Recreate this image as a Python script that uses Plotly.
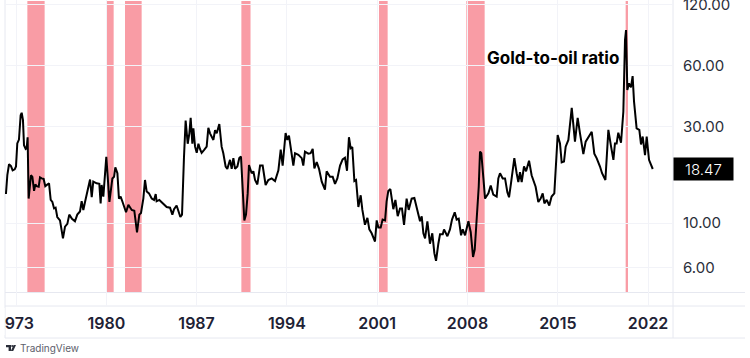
import math
import plotly.graph_objects as go

years = [1972.22,1972.33,1972.46,1972.61,1972.74,1972.90,1973.00,1973.10,1973.23,1973.36,1973.44,1973.54,1973.62,1973.75,1973.83,1973.90,1973.98,
1974.16,1974.27,1974.40,1974.50,1974.60,1974.76,1974.86,1974.99,1975.14,1975.27,1975.43,1975.56,1975.69,1975.82,1975.95,1976.07,1976.20,1976.41,1976.64,1976.80,1976.98,
1977.13,1977.34,1977.57,1977.75,1977.96,1978.09,1978.22,1978.35,1978.53,1978.63,1978.74,1978.87,1978.99,1979.25,1979.46,1979.56,1979.64,1979.77,1979.90,1980.00,
1980.11,1980.24,1980.47,1980.60,1980.70,1980.86,1980.98,1981.11,1981.24,1981.53,1981.71,1981.97,1982.17,1982.38,1982.56,1982.69,1982.87,1983.00,1983.13,1983.31,1983.52,1983.70,1983.83,1983.90,
1984.11,1984.42,1984.68,1984.94,1985.12,1985.25,1985.45,1985.74,1985.87,1986.02,1986.15,1986.31,1986.44,1986.54,1986.67,1986.75,1986.88,1987.01,1987.14,1987.26,1987.39,1987.57,1987.78,1987.91,
1988.04,1988.30,1988.43,1988.56,1988.76,1988.94,1989.07,1989.25,1989.38,1989.59,1989.72,1989.85,1989.98,1990.16,1990.31,1990.44,1990.57,1990.70,1990.83,1990.96,1991.06,
1991.27,1991.40,1991.53,1991.71,1991.92,1992.12,1992.35,1992.56,1992.82,1993.08,1993.34,1993.52,1993.67,1993.90,1994.03,1994.16,1994.32,1994.50,1994.63,1994.89,1995.15,1995.27,1995.40,1995.66,1995.84,
1996.00,1996.13,1996.31,1996.49,1996.70,1996.95,1997.08,1997.34,1997.55,1997.73,1997.91,1998.12,1998.32,1998.50,1998.66,1998.81,1998.94,1999.07,1999.23,1999.36,1999.54,1999.72,1999.85,
2000.05,2000.24,2000.39,2000.57,2000.83,2000.96,2001.09,2001.27,2001.42,2001.61,2001.73,2001.86,2002.02,2002.25,2002.41,2002.59,2002.77,2002.92,2003.08,2003.28,2003.44,2003.67,2003.88,
2004.14,2004.32,2004.45,2004.58,2004.71,2004.89,2005.09,2005.27,2005.43,2005.56,2005.74,2005.87,2006.08,2006.18,2006.44,2006.64,2006.80,2007.01,2007.16,2007.32,2007.50,2007.63,2007.81,
2008.07,2008.25,2008.43,2008.56,2008.71,2008.87,2008.97,2009.07,2009.23,2009.36,2009.62,2009.80,2010.00,2010.26,2010.39,2010.52,2010.73,2010.91,
2011.09,2011.22,2011.37,2011.63,2011.81,2011.94,2012.07,2012.20,2012.38,2012.54,2012.77,2012.97,2013.28,2013.49,2013.67,2013.83,2013.96,2014.14,2014.34,2014.52,2014.73,2014.99,
2015.17,2015.30,2015.48,2015.61,2015.82,2016.08,2016.33,2016.54,2016.72,2016.98,2017.16,2017.63,2017.83,2018.01,2018.27,2018.43,2018.69,2018.92,2019.12,2019.31,2019.43,2019.56,2019.69,2019.90,
2020.08,2020.21,2020.29,2020.39,2020.52,2020.67,2020.80,2020.91,2021.11,2021.32,2021.45,2021.58,2021.76,2021.89,2022.07,2022.36]

ratio = [13.9,17.3,19.5,19.1,18.2,18.4,19.0,24.7,25.8,34.0,35.0,32.2,24.2,23.2,23.4,26.5,13.2,
17.2,16.9,14.4,15.5,15.2,15.1,16.8,16.6,16.5,15.2,15.5,15.7,13.0,12.7,11.8,11.9,10.7,10.3,8.4,9.6,9.9,
11.0,10.5,10.2,11.0,11.4,12.8,11.6,12.7,14.2,14.8,16.4,13.4,16.0,15.7,15.6,12.5,15.4,13.5,17.6,21.2,
16.9,12.7,16.6,16.9,18.8,17.6,13.2,13.5,12.8,11.3,12.3,11.6,11.5,9.0,11.0,11.2,13.2,16.3,14.3,14.0,13.2,13.0,13.9,12.8,
13.0,12.4,12.0,11.9,11.0,11.7,12.2,10.7,11.0,21.0,32.0,24.6,27.7,33.0,24.6,29.3,23.8,22.2,24.6,23.2,22.2,22.9,23.8,29.5,
27.7,25.7,28.7,27.7,30.8,23.8,22.1,19.0,18.5,20.5,18.5,20.9,18.5,19.0,20.9,21.3,15.1,10.3,11.0,14.0,19.3,
17.6,18.0,16.3,15.5,19.2,19.2,15.4,16.3,16.6,16.1,18.2,23.0,19.2,27.8,25.7,27.0,22.5,19.2,22.1,21.7,20.9,19.2,22.5,22.0,22.1,
23.2,18.6,20.0,18.5,16.0,14.6,18.0,16.9,16.9,15.6,16.6,19.2,20.6,21.0,18.1,26.5,23.4,23.7,16.1,16.3,12.0,13.7,11.6,
9.8,10.6,9.3,8.9,8.1,10.3,9.5,9.5,10.4,10.3,12.8,14.4,14.7,11.7,13.0,10.8,11.8,11.8,9.8,13.2,11.6,13.2,13.3,
11.4,10.2,10.8,8.9,8.4,10.2,7.9,8.9,7.1,6.5,7.9,8.8,8.8,9.3,8.6,9.3,10.4,11.3,10.4,10.5,8.7,9.3,8.7,
10.2,9.0,6.8,7.4,10.4,15.1,22.5,22.1,16.7,13.2,14.0,15.3,13.8,13.5,16.6,17.6,16.6,16.6,
14.2,13.4,15.7,20.9,17.6,15.9,17.8,15.9,19.0,18.0,20.3,17.2,15.1,12.7,13.2,14.0,12.5,13.0,12.2,13.5,14.0,27.2,
24.7,19.9,20.1,23.8,25.7,37.0,25.2,33.0,27.7,21.9,25.2,28.2,22.0,20.9,19.0,17.6,16.3,28.8,24.0,20.5,24.7,24.7,27.9,24.9,
35.4,80.0,89.6,45.3,48.9,46.7,53.1,39.7,29.3,28.8,24.4,26.7,21.6,26.7,20.5,18.47]

recession_start = [1973.88, 1980.03, 1981.45, 1990.47, 2001.14, 2007.91, 2020.26]
recession_end = [1975.22, 1980.57, 1982.74, 1991.18, 2001.81, 2009.33, 2020.44]
x_ticks = [1973, 1980, 1987, 1994, 2001, 2008, 2015, 2022]
y_ticks = [6, 10, 30, 60, 120]
y_labels = ["6.00", "10.00", "30.00", "60.00", "120.00"]

W, H = 750, 358
TOP, BOTTOM, LEFT, RIGHT = 0, 306, 5, 673
INK = "#1e2235"
GRID = "#f2f3f8"
EDGE = "#e6e8f0"

def px(v):
    return (v - LEFT) / (RIGHT - LEFT)

def py(v):
    return (BOTTOM - v) / (BOTTOM - TOP)

fig = go.Figure()
fig.add_trace(go.Scatter(x=years, y=ratio, mode="lines", hoverinfo="skip",
                         line=dict(color="#000000", width=2, shape="linear")))

shapes = []
for a, b in zip(recession_start, recession_end):
    shapes.append(dict(type="rect", xref="x", yref="paper", x0=a, x1=b, y0=py(292.5), y1=py(1),
                       fillcolor="#f99ca5", line=dict(width=0), layer="below"))
for yy in (292.5, 306, 338):
    shapes.append(dict(type="line", xref="paper", yref="paper", x0=px(5), x1=px(745), y0=py(yy), y1=py(yy),
                       line=dict(color=EDGE, width=1), layer="below"))
shapes.append(dict(type="line", xref="paper", yref="paper", x0=1, x1=1, y0=py(338), y1=py(0),
                   line=dict(color=EDGE, width=1), layer="below"))
shapes.append(dict(type="line", xref="paper", yref="paper", x0=0, x1=0, y0=py(338), y1=py(0),
                   line=dict(color=EDGE, width=1), layer="below"))
# page edge hides the leading digit of the first year label
shapes.append(dict(type="rect", xref="paper", yref="paper", x0=px(0), x1=px(4.6), y0=py(335), y1=py(308),
                   fillcolor="#ffffff", line=dict(width=0), layer="above"))

def logo_path():
    pts = [[(6,345),(11,345),(11,351),(8.6,351),(8.6,347.2),(6,347.2)],
           [(13.6,345),(16,345),(13.2,351),(10.8,351)]]
    out = ""
    for poly in pts:
        out += "M" + "L".join(f"{px(x):.5f},{py(y):.5f}" for x, y in poly) + "Z"
    return out

shapes.append(dict(type="path", xref="paper", yref="paper", path=logo_path(),
                   fillcolor="#2a2e39", line=dict(width=0)))
shapes.append(dict(type="circle", xref="paper", yref="paper", x0=px(11.2), x1=px(13.2), y0=py(347), y1=py(345),
                   fillcolor="#2a2e39", line=dict(width=0)))

fig.update_layout(
    width=W, height=H, autosize=False,
    margin=dict(l=LEFT, r=W - RIGHT, t=TOP, b=H - BOTTOM, pad=0),
    paper_bgcolor="#ffffff", plot_bgcolor="#ffffff", showlegend=False,
    shapes=shapes,
    xaxis=dict(range=[1972.147, 2023.93], tickmode="array", tickvals=x_ticks,
               ticktext=[str(t) for t in x_ticks], showgrid=True, gridcolor=GRID, gridwidth=1,
               zeroline=False, showline=False, ticks="", ticklabelstandoff=6, ticklabeloverflow="allow",
               tickfont=dict(family="Inter", size=16, color=INK, weight=600), automargin=False),
    yaxis=dict(type="log", side="right", range=[0.5904, 2.1005], tickmode="array", tickvals=y_ticks,
               ticktext=y_labels, showgrid=True, gridcolor=GRID, gridwidth=1,
               zeroline=False, showline=False, ticks="outside", ticklen=6, tickcolor="rgba(0,0,0,0)",
               ticklabeloverflow="allow",
               tickfont=dict(family="Inter", size=15, color="#2a2e39"), automargin=False),
    annotations=[
        dict(xref="paper", yref="y", x=1, y=math.log10(ratio[-1]), xanchor="left", yanchor="middle",
             text=str(ratio[-1]), showarrow=False, width=59, height=22, bgcolor="#000000", borderpad=0,
             align="center", valign="middle", font=dict(family="Inter", size=15, color="#ffffff", weight=300)),
        dict(xref="paper", yref="paper", x=px(485), y=py(58), text="Gold-to-oil ratio", showarrow=False,
             xanchor="left", yanchor="middle", font=dict(family="Inter", size=17, color="#000000", weight=700)),
        dict(xref="paper", yref="paper", x=px(19), y=py(348), text="TradingView", showarrow=False,
             xanchor="left", yanchor="middle", xshift=-1, font=dict(family="Inter", size=10, color="#5d606b")),
    ],
)
fig.write_html("out.html", config={"displayModeBar": False},
               post_script="document.body.style.margin='0';document.body.style.overflow='hidden';")
